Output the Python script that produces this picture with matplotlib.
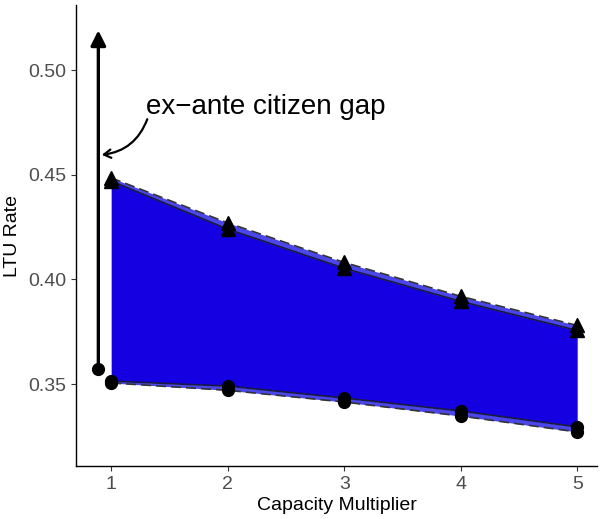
import matplotlib
matplotlib.use("Agg")
import matplotlib.pyplot as plt

plt.rcParams['font.family'] = ['Liberation Sans', 'DejaVu Sans']

# === DATA ===
multiplier = [1, 2, 3, 4, 5]
upper_solid = [0.4470, 0.4240, 0.4053, 0.3895, 0.3756]
upper_dashed = [0.4485, 0.4270, 0.4081, 0.3919, 0.3780]
lower_solid = [0.3514, 0.3490, 0.3433, 0.3371, 0.3295]
lower_dashed = [0.3505, 0.3470, 0.3414, 0.3347, 0.3271]

gap_x = 0.89
gap_low = 0.3572
gap_high = 0.519
label = "ex\u2212ante citizen gap"

# === PLOT ===
fig = plt.figure(figsize=(6.0, 5.19), dpi=100)
ax = fig.add_axes([0.127, 0.102, 0.868, 0.888])

ax.fill_between(multiplier, lower_solid, upper_solid, color="#1400E0", lw=0, zorder=1)
ax.fill_between(multiplier, upper_solid, upper_dashed, color="#4B45EC", lw=0, zorder=1)
ax.fill_between(multiplier, lower_dashed, lower_solid, color="#4B45EC", lw=0, zorder=1)

for ys in (upper_solid, lower_solid):
    ax.plot(multiplier, ys, color="#1a1a40", lw=1.2, zorder=2)
for ys in (upper_dashed, lower_dashed):
    ax.plot(multiplier, ys, color="#333333", lw=1.2, ls=(0, (6, 3)), zorder=2)

for ys in (upper_solid, upper_dashed):
    ax.plot(multiplier, ys, ls="none", marker="^", ms=10, color="black", zorder=3)
for ys in (lower_solid, lower_dashed):
    ax.plot(multiplier, ys, ls="none", marker="o", ms=8.5, color="black", zorder=3)

# vertical gap arrow
ax.annotate("", xy=(gap_x, gap_high), xytext=(gap_x, gap_low),
            arrowprops=dict(arrowstyle="-|>,head_length=0.9,head_width=0.45",
                            color="black", lw=2.4, shrinkA=0, shrinkB=0), zorder=4)
ax.plot([gap_x], [gap_low], marker="o", ms=8.5, color="black", zorder=4)

# label with curved arrow
ax.text(1.30, 0.4825, label, fontsize=20, ha="left", va="center", color="black")
ax.annotate("", xy=(0.92, 0.4595), xytext=(1.31, 0.4765),
            arrowprops=dict(arrowstyle="->,head_length=0.5,head_width=0.3", color="black",
                            lw=1.6, connectionstyle="arc3,rad=-0.3",
                            shrinkA=0, shrinkB=0))

ax.set_xlim(0.70, 5.17)
ax.set_ylim(0.3108, 0.531)
ax.set_xticks(multiplier)
ax.set_yticks([0.35, 0.40, 0.45, 0.50])
ax.set_yticklabels(["0.35", "0.40", "0.45", "0.50"])
ax.tick_params(axis="both", labelsize=14, labelcolor="#4D4D4D", color="#333333",
               length=3.5, width=0.8)
ax.set_xlabel("Capacity Multiplier", fontsize=14, labelpad=3)
ax.set_ylabel("LTU Rate", fontsize=14, labelpad=5)

for s in ("top", "right"):
    ax.spines[s].set_visible(False)
for s in ("left", "bottom"):
    ax.spines[s].set_linewidth(1.0)

plt.savefig("out.png", dpi=100)
